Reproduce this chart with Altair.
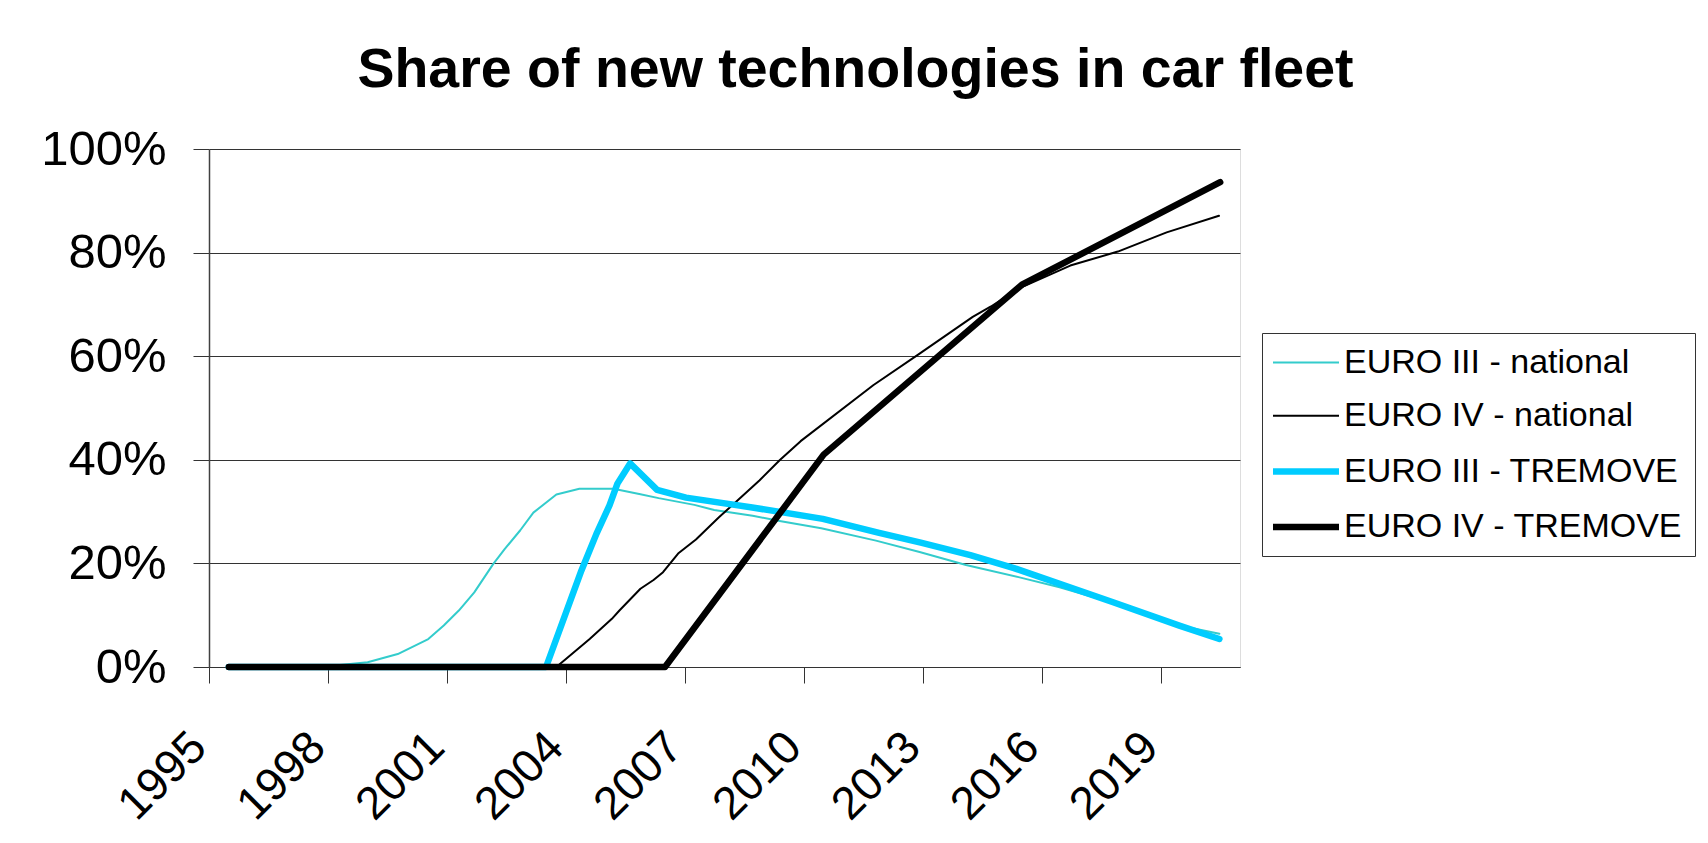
import altair as alt
import pandas as pd

FONT = "Liberation Sans"

series_names = ["EURO III - national", "EURO IV - national",
                "EURO III - TREMOVE", "EURO IV - TREMOVE"]
series_colors = ["#33CCCC", "#000000", "#00CCFF", "#000000"]
series_widths = [2, 2, 6.5, 6.5]

x_tick_years = [1995, 1998, 2001, 2004, 2007, 2010, 2013, 2016, 2019]
y_ticks = [0, 20, 40, 60, 80, 100]

# EURO III - national
e3_nat_year = [1995.5, 1997.5, 1998.3, 1999.0, 1999.76, 2000.53, 2000.92, 2001.3,
               2001.69, 2002.17, 2002.46, 2002.85, 2003.18, 2003.76, 2004.34, 2005.2,
               2005.85, 2006.34, 2007.24, 2007.74, 2008.71, 2009.39, 2010.44, 2011.82,
               2012.92, 2014.09, 2015.44, 2016.45, 2017.62, 2019.47, 2020.48]
e3_nat_share = [0, 0, 0.4, 0.9, 2.5, 5.4, 8.0, 10.9,
                14.4, 19.9, 22.8, 26.4, 29.8, 33.3, 34.4, 34.4,
                33.4, 32.6, 31.3, 30.3, 29.2, 28.2, 26.8, 24.4,
                22.2, 19.7, 17.3, 15.4, 12.8, 8.0, 6.4]

# EURO IV - national
e4_nat_year = [1995.5, 2003.76, 2004.6, 2005.16, 2005.35, 2005.88, 2006.21, 2006.45,
               2006.83, 2007.28, 2007.86, 2008.32, 2008.88, 2009.39, 2009.92, 2011.75,
               2012.92, 2014.26, 2014.72, 2015.4, 2016.72, 2017.92, 2019.15, 2020.47]
e4_nat_share = [0, 0, 5.4, 9.3, 10.9, 15.1, 16.8, 18.3,
                21.9, 24.6, 28.9, 32.1, 36.0, 39.9, 43.6, 54.4,
                60.5, 67.6, 69.6, 73.0, 77.5, 80.2, 83.9, 87.1]

# EURO III - TREMOVE
e3_tre_year = [1995.5, 2003.5, 2004.39, 2004.77, 2005.1, 2005.3, 2005.62, 2006.3,
               2007.03, 2008.7, 2010.48, 2011.9, 2012.95, 2014.2, 2015.3, 2017.8,
               2019.47, 2020.48]
e3_tre_share = [0, 0, 18.6, 25.7, 31.2, 35.4, 39.3, 34.2,
                32.7, 30.8, 28.6, 25.9, 24.0, 21.6, 19.1, 12.5,
                8.0, 5.4]

# EURO IV - TREMOVE
e4_tre_year = [1995.5, 2006.5, 2010.5, 2015.5, 2020.5]
e4_tre_share = [0, 0, 41.0, 73.8, 93.6]

frames = []
for name, yrs, vals in [
    (series_names[0], e3_nat_year, e3_nat_share),
    (series_names[1], e4_nat_year, e4_nat_share),
    (series_names[2], e3_tre_year, e3_tre_share),
    (series_names[3], e4_tre_year, e4_tre_share),
]:
    frames.append(pd.DataFrame({"series": name, "year": yrs, "share": vals}))
df = pd.concat(frames, ignore_index=True)
df["order"] = df.index

legend_opts = dict(
    orient="none", legendX=1053, legendY=184,
    symbolType="M-2,0H2", symbolSize=1089, symbolOffset=12,
    labelFont=FONT, labelFontSize=34, labelColor="#000000", labelLimit=600,
    labelOffset=18, padding=12, rowPadding=18.3,
    strokeColor="#333333", fillColor="#ffffff",
)

color = alt.Color(
    "series:N", title=None,
    scale=alt.Scale(domain=series_names, range=series_colors),
    legend=alt.Legend(**legend_opts),
)
stroke_w = alt.StrokeWidth(
    "series:N", title=None,
    scale=alt.Scale(type="ordinal", domain=series_names, range=series_widths),
    legend=alt.Legend(**legend_opts),
)

x = alt.X(
    "year:Q", title=None,
    scale=alt.Scale(domain=[1995, 2021], nice=False, zero=False),
    axis=alt.Axis(
        values=x_tick_years, format="d", grid=False,
        labelAngle=-45, labelAlign="right", labelBaseline="top",
        labelFlush=False, labelOverlap=False, labelBound=False,
        labelFont=FONT, labelFontSize=46, labelColor="#000000",
        labelPadding=41, labelOffset=-26,
        tickSize=16, tickColor="#333333", tickWidth=1,
        domainColor="#333333", domainWidth=1,
    ),
)
y = alt.Y(
    "share:Q", title=None,
    scale=alt.Scale(domain=[0, 100], nice=False),
    axis=alt.Axis(
        values=y_ticks, labelExpr="datum.value + '%'",
        grid=True, gridColor="#333333", gridWidth=1,
        labelFont=FONT, labelFontSize=49, labelColor="#000000", labelPadding=27,
        labelFlush=False, labelOverlap=False,
        tickSize=16, tickColor="#333333", tickWidth=1,
        domainColor="#404040", domainWidth=1.5,
    ),
)

base = alt.Chart(df).mark_line(strokeCap="round", strokeJoin="round").encode(
    x=x, y=y, color=color, strokeWidth=stroke_w, order="order:Q"
)

layers = [base.transform_filter(alt.datum.series == n) for n in series_names]

chart = alt.layer(*layers).properties(
    width=1031,
    height=518,
    title=alt.TitleParams(
        "Share of new technologies in car fleet",
        font=FONT, fontSize=55.5, fontWeight="bold", color="#000000",
        anchor="middle", dx=131, baseline="alphabetic", offset=-17,
    ),
    autosize=alt.AutoSizeParams(type="none"),
    padding={"left": 201, "top": 141, "right": 460, "bottom": 170},
).configure_view(
    stroke="#808080", strokeWidth=2
).configure(
    background="#ffffff"
)

chart.save("out.html", embed_options={"renderer": "svg", "actions": False})
